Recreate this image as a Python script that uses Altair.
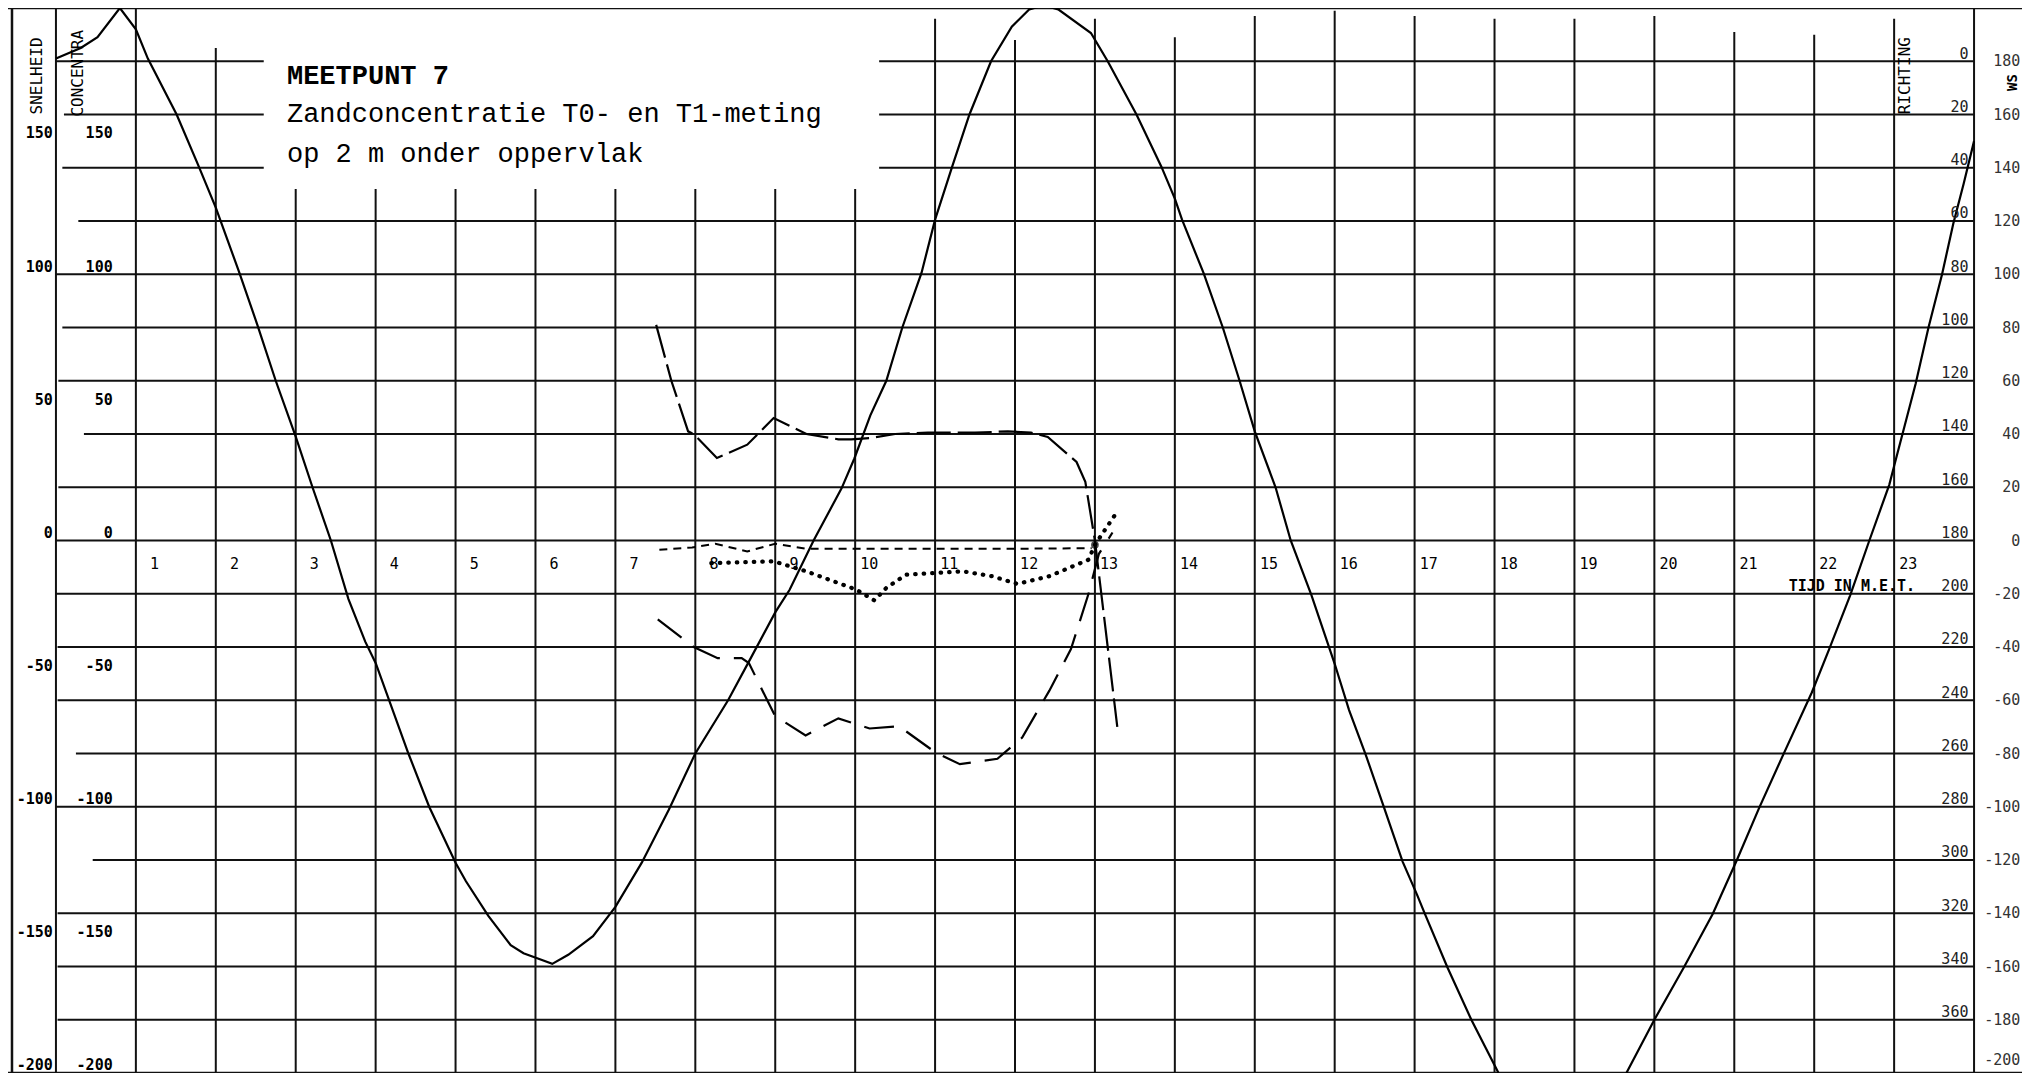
import altair as alt
import pandas as pd

# ---------------- data ----------------
# Solid tidal curve, first part (clipped below -200 after ~18 h)
tide1_t = [0.0, 0.31, 0.52, 0.80, 1.0, 1.15, 1.51, 1.78, 2.0, 2.29, 2.52, 2.75, 3.0, 3.21, 3.44,
           3.66, 3.87, 4.0, 4.41, 4.67, 5.0, 5.13, 5.41, 5.69, 5.85, 6.03, 6.21, 6.41, 6.72, 7.0,
           7.33, 7.67, 8.0, 8.41, 8.67, 9.0, 9.18, 9.48, 9.83, 9.99, 10.19, 10.39, 10.59, 10.83,
           11.0, 11.22, 11.43, 11.70, 11.96, 12.18, 12.36, 12.54, 12.95, 13.16, 13.52, 13.83,
           14.0, 14.09, 14.36, 14.6, 14.81, 15.0, 15.26, 15.45, 15.71, 16.0, 16.18, 16.39, 16.62,
           16.85, 17.03, 17.13, 17.41, 17.71, 18.05]
tide1_v = [181, 185, 189, 200, 192, 181, 160, 141, 125, 101, 81, 60, 39, 20, 0,
           -22, -38, -46, -80, -100, -121, -128, -141, -152, -155, -157, -159, -155.6, -148.6, -137.6,
           -121, -101, -80, -60, -45.5, -27, -18.5, 0, 19.6, 30.8, 47, 60, 80, 100.5,
           120.5, 141, 160, 180, 193, 199.5, 201, 199.5, 190.6, 180, 160, 140.5,
           128.4, 120.5, 100.4, 80, 60, 41, 20, 0, -20.6, -46.3, -63.7, -80.6, -100.5,
           -120.6, -133, -140.3, -160.3, -180, -200]
# Solid tidal curve, second part (re-enters at the bottom)
tide2_t = [19.65, 20.0, 20.37, 20.73, 21.03, 21.31, 21.61, 21.97, 22.19, 22.45, 22.69, 22.94,
           23.0, 23.27, 23.43, 23.6, 23.74, 23.87, 24.0]
tide2_v = [-200, -180, -160.3, -140.3, -120.2, -100.5, -80.6, -57.1, -40.6, -20.6, 0, 21,
           28, 59, 80, 100, 119, 134, 150]

# Upper dashed series
ser_a_t = [7.51, 7.70, 7.91, 7.98, 8.27, 8.65, 8.98, 9.39, 9.79, 9.95, 10.19, 10.50, 10.91,
           11.5, 11.91, 12.2, 12.41, 12.77, 12.88, 13.0, 13.12, 13.28]
ser_a_v = [81, 60, 41, 40, 31, 36, 46, 40, 38, 38, 38.5, 40, 40.5,
           40.5, 41, 40.5, 38.9, 29.5, 22, 0, -30, -70]
# Lower long-dashed series
ser_b_t = [7.53, 7.98, 8.28, 8.58, 8.67, 8.90, 9.0, 9.38, 9.79, 10.18, 10.55, 11.0, 11.31,
           11.78, 12.09, 12.43, 12.70, 12.92, 13.05, 13.22]
ser_b_v = [-29.6, -40, -44.2, -44.2, -46, -60, -66, -73.2, -66.8, -70.6, -69.8, -79.5, -84,
           -82, -74, -56.4, -40.8, -20, -5, 3]
# Short-dashed series near zero
ser_c_t = [7.55, 7.96, 8.25, 8.65, 9.0, 9.39, 10.2, 12.0, 12.96]
ser_c_v = [-3.5, -2.6, -1.2, -4.1, -1.2, -3.1, -3.1, -3.1, -2.9]
# Dotted series
ser_d_t = [8.2, 8.98, 9.39, 10.01, 10.24, 10.39, 10.64, 11.0, 11.35, 11.71, 12.03, 12.43,
           12.92, 13.0, 13.26]
ser_d_v = [-8.5, -7.8, -11.6, -18.4, -22.5, -17.8, -12.8, -12.2, -11.6, -13.4, -16.3, -13.4,
           -7.2, -1.6, 10]

# Grid
hgrid_vals = [180, 160, 140, 120, 100, 80, 60, 40, 20, 0, -20, -40, -60, -80, -100, -120,
              -140, -160, -180]
hgrid_start = [0.0, 0.1, 0.08, 0.28, 0.0, 0.08, 0.03, 0.35, 0.03, 0.0, 0.0, 0.02, 0.02, 0.25,
               0.0, 0.46, 0.02, 0.02, 0.02]
title_gap = [2.6, 10.3]  # the title block interrupts the top three grid lines
vgrid_hours = list(range(0, 25))
vgrid_top = [200, 200, 185, 132, 132, 132, 132, 132, 132, 132, 132, 196, 188, 196, 189, 197,
             199, 197, 196, 196, 197, 191, 190, 196, 200]

# Tick labels
hour_labels = [str(h) for h in range(1, 24)]
snel_vals = [150, 100, 50, 0, -50, -100, -150, -200]
conc_vals = [150, 100, 50, 0, -50, -100, -150, -200]
richting_labels = [0, 20, 40, 60, 80, 100, 120, 140, 160, 180, 200, 220, 240, 260, 280, 300,
                   320, 340, 360]
ws_labels = [180, 160, 140, 120, 100, 80, 60, 40, 20, 0, -20, -40, -60, -80, -100, -120, -140,
             -160, -180, -200]

title_lines = ["MEETPUNT 7", "Zandconcentratie T0- en T1-meting", "op 2 m onder oppervlak"]

# ---------------- build tables ----------------
XS = alt.Scale(domain=[-0.6, 24.6], nice=False, zero=False)
YS = alt.Scale(domain=[-200, 200], nice=False, zero=False)


def X(f="x"):
    return alt.X(f"{f}:Q", scale=XS, axis=None)


def Y(f="y"):
    return alt.Y(f"{f}:Q", scale=YS, axis=None)


hrows = []
for v, s in zip(hgrid_vals, hgrid_start):
    if v in (180, 160, 140):
        hrows.append({"x": s, "x2": title_gap[0], "y": v})
        hrows.append({"x": title_gap[1], "x2": 24, "y": v})
    else:
        hrows.append({"x": s, "x2": 24, "y": v})
hgrid = pd.DataFrame(hrows)

vgrid = pd.DataFrame({"x": vgrid_hours, "y": [-200] * len(vgrid_hours), "y2": vgrid_top})

border_h = pd.DataFrame({"x": [-0.6, -0.6], "x2": [24.6, 24.6], "y": [200, -200]})
border_v = pd.DataFrame({"x": [-0.55], "y": [-200], "y2": [200]})

tide = pd.DataFrame({"x": tide1_t + tide2_t, "y": tide1_v + tide2_v,
                     "seg": ["a"] * len(tide1_t) + ["b"] * len(tide2_t)})
sa = pd.DataFrame({"x": ser_a_t, "y": ser_a_v})
sb = pd.DataFrame({"x": ser_b_t, "y": ser_b_v})
sc = pd.DataFrame({"x": ser_c_t, "y": ser_c_v})
sd = pd.DataFrame({"x": ser_d_t, "y": ser_d_v})

hour_df = pd.DataFrame({"x": [int(h) + 0.29 for h in hour_labels], "y": [-9] * len(hour_labels),
                        "t": hour_labels})
snel_df = pd.DataFrame({"x": [-0.04] * len(snel_vals), "y": [v + 1 for v in snel_vals],
                        "t": [str(v) for v in snel_vals]})
conc_df = pd.DataFrame({"x": [0.71] * len(conc_vals), "y": [v + 1 for v in conc_vals],
                        "t": [str(v) for v in conc_vals]})
rich_df = pd.DataFrame({"x": [23.93] * len(richting_labels),
                        "y": [180 - r + 1 for r in richting_labels],
                        "t": [str(r) for r in richting_labels]})
ws_df = pd.DataFrame({"x": [24.58] * len(ws_labels), "y": [max(w, -195) for w in ws_labels],
                      "t": [str(w) for w in ws_labels]})
title_df = pd.DataFrame({"x": [2.89] * 3, "y": [171.5, 157, 142], "t": title_lines,
                         "w": ["bold", "normal", "normal"]})
vtitle_df = pd.DataFrame({"x": [-0.24, 0.27, 23.13], "y": [174.5, 175.5, 174.6],
                          "t": ["SNELHEID", "CONCENTRA", "RICHTING"]})
ws_title_df = pd.DataFrame({"x": [24.49], "y": [172], "t": ["WS"]})
tijd_df = pd.DataFrame({"x": [21.68], "y": [-19], "t": ["TIJD IN M.E.T."]})

INK = "#111111"
MONO = "DejaVu Sans Mono"

layers = [
    alt.Chart(hgrid).mark_rule(color=INK, strokeWidth=2).encode(x=X(), x2="x2:Q", y=Y()),
    alt.Chart(vgrid).mark_rule(color=INK, strokeWidth=2).encode(x=X(), y=Y(), y2="y2:Q"),
    alt.Chart(border_h).mark_rule(color=INK, strokeWidth=2.5).encode(x=X(), x2="x2:Q", y=Y()),
    alt.Chart(border_v).mark_rule(color=INK, strokeWidth=2.5).encode(x=X(), y=Y(), y2="y2:Q"),
    alt.Chart(tide).mark_line(color="#000", strokeWidth=2.2, clip=True).encode(
        x=X(), y=Y(), detail="seg:N", order="x:Q"),
    alt.Chart(sa).mark_line(color="#000", strokeWidth=2.2, strokeDash=[34, 7], clip=True).encode(
        x=X(), y=Y(), order="x:Q"),
    alt.Chart(sb).mark_line(color="#000", strokeWidth=2.2, strokeDash=[30, 14], clip=True).encode(
        x=X(), y=Y(), order="x:Q"),
    alt.Chart(sc).mark_line(color="#000", strokeWidth=2, strokeDash=[8, 6], clip=True).encode(
        x=X(), y=Y(), order="x:Q"),
    alt.Chart(sd).mark_line(color="#000", strokeWidth=4.2, strokeDash=[0.5, 8], strokeCap="round",
                            clip=True).encode(x=X(), y=Y(), order="x:Q"),
    alt.Chart(sd[sd["x"] == 13.0]).mark_point(filled=True, color="#000", size=60).encode(x=X(), y=Y()),
    alt.Chart(hour_df).mark_text(align="right", baseline="middle", font=MONO, fontSize=15,
                                 color="#000").encode(x=X(), y=Y(), text="t:N"),
    alt.Chart(snel_df).mark_text(align="right", baseline="alphabetic", font=MONO, fontSize=15,
                                 fontWeight="bold", color="#000").encode(x=X(), y=Y(), text="t:N"),
    alt.Chart(conc_df).mark_text(align="right", baseline="alphabetic", font=MONO, fontSize=15,
                                 fontWeight="bold", color="#000").encode(x=X(), y=Y(), text="t:N"),
    alt.Chart(rich_df).mark_text(align="right", baseline="alphabetic", font=MONO, fontSize=15,
                                 color="#222").encode(x=X(), y=Y(), text="t:N"),
    alt.Chart(ws_df).mark_text(align="right", baseline="middle", font=MONO, fontSize=15,
                               color="#333").encode(x=X(), y=Y(), text="t:N"),
    alt.Chart(title_df[title_df["w"] == "bold"]).mark_text(
        align="left", baseline="alphabetic", font="Liberation Mono", fontSize=27,
        fontWeight="bold", color="#000").encode(x=X(), y=Y(), text="t:N"),
    alt.Chart(title_df[title_df["w"] == "normal"]).mark_text(
        align="left", baseline="alphabetic", font="Liberation Mono", fontSize=27,
        color="#000").encode(x=X(), y=Y(), text="t:N"),
    alt.Chart(vtitle_df).mark_text(align="center", baseline="middle", font=MONO, fontSize=16,
                                   angle=270, color="#000").encode(x=X(), y=Y(), text="t:N"),
    alt.Chart(ws_title_df).mark_text(align="center", baseline="middle", font=MONO, fontSize=14,
                                     fontWeight="bold", angle=270, color="#000").encode(
        x=X(), y=Y(), text="t:N"),
    alt.Chart(tijd_df).mark_text(align="left", baseline="alphabetic", font=MONO, fontSize=15,
                                 fontWeight="bold", color="#000").encode(x=X(), y=Y(), text="t:N"),
]

chart = alt.layer(*layers).properties(
    width=2014, height=1065, padding=0,
    autosize=alt.AutoSizeParams(type="none"),
    background="white",
).configure_view(strokeWidth=0)

chart.save("out.html", embed_options={"renderer": "svg", "actions": False})
